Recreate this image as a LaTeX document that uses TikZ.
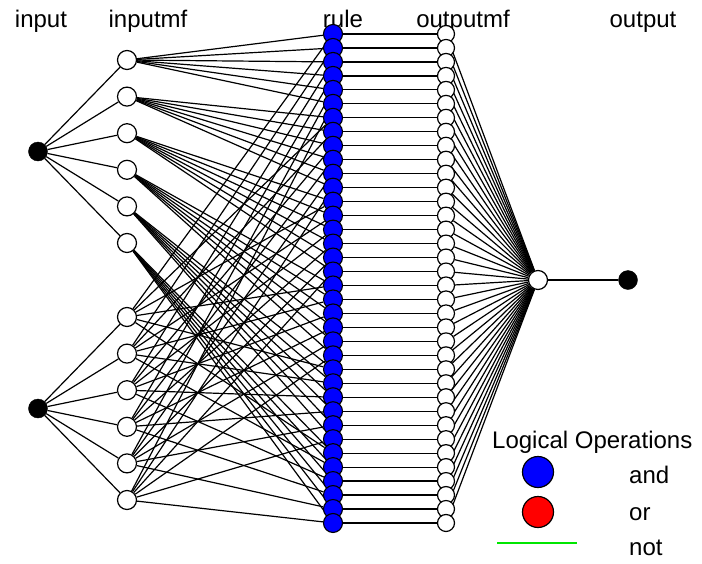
\documentclass[tikz,border=0pt]{standalone}
\usepackage{fontspec}
\setmainfont{Liberation Sans}
\definecolor{legendgreen}{RGB}{0,230,0}
\pgfdeclarelayer{bg}
\pgfsetlayers{bg,main}
\begin{document}
\begin{tikzpicture}[x=1pt,y=-1pt,
  innode/.style={circle,fill=black,draw=black,minimum size=19pt,inner sep=0pt},
  mfnode/.style={circle,fill=white,draw=black,line width=1.2pt,minimum size=19pt,inner sep=0pt},
  omfnode/.style={circle,fill=white,draw=black,line width=1.2pt,minimum size=17pt,inner sep=0pt},
  rulenode/.style={circle,fill=blue,draw=black,line width=1.1pt,minimum size=19pt,inner sep=0pt},
  legnode/.style={circle,draw=black,line width=1.2pt,minimum size=31pt,inner sep=0pt},
  conn/.style={line width=1.2pt,draw=black},
  lbl/.style={font=\fontsize{24}{28}\selectfont,inner sep=0pt}]
\useasboundingbox (0,0) rectangle (702,563);
% titles
\node[lbl,anchor=base] (t1) at (41,27) {input};
\node[lbl,anchor=base] (t2) at (148,27) {inputmf};
\node[lbl,anchor=base] (t3) at (343,27) {rule};
\node[lbl,anchor=base] (t4) at (463,27) {outputmf};
\node[lbl,anchor=base] (t5) at (643,27) {output};
% input nodes
\node[innode] (i1) at (38,151.5) {};
\node[innode] (i2) at (38,408.5) {};
% input mf nodes
\foreach \j in {0,...,5}{
  \node[mfnode] (a\j) at (127,{60+36.6*\j}) {};
  \node[mfnode] (b\j) at (127,{317+36.6*\j}) {};
}
% rules and output mfs
\foreach \k in {0,...,35}{
  \node[rulenode] (r\k) at (333,{34+13.971*\k}) {};
  \node[omfnode] (o\k) at (446,{34+13.971*\k}) {};
}
\node[mfnode] (agg) at (538,280) {};
\node[innode] (out) at (628,280) {};
% connectors
\begin{pgfonlayer}{bg}
\foreach \j in {0,...,5}{
  \draw[conn] (i1) -- (a\j);
  \draw[conn] (i2) -- (b\j);
}
\foreach \k in {0,...,35}{
  \pgfmathtruncatemacro\ii{floor(\k/6)}
  \pgfmathtruncatemacro\jj{mod(\k,6)}
  \draw[conn] (a\ii) -- (r\k);
  \draw[conn] (b\jj) -- (r\k);
  \draw[conn] (r\k) -- (o\k);
  \draw[conn] (o\k) -- (agg);
}
\draw[conn] (agg) -- (out);
\end{pgfonlayer}
% legend
\node[lbl,anchor=base west] (lt) at (492,448) {Logical Operations};
\node[legnode,fill=blue] (land) at (538,472) {};
\node[legnode,fill=red] (lor) at (538,512) {};
\coordinate (g1) at (497,543);
\coordinate (g2) at (577,543);
\draw[legendgreen,line width=1.5pt] (g1) -- (g2);
\node[lbl,anchor=base west] (tand) at (629,483) {and};
\node[lbl,anchor=base west] (tor) at (629,520) {or};
\node[lbl,anchor=base west] (tnot) at (629,555) {not};
\end{tikzpicture}
\end{document}
